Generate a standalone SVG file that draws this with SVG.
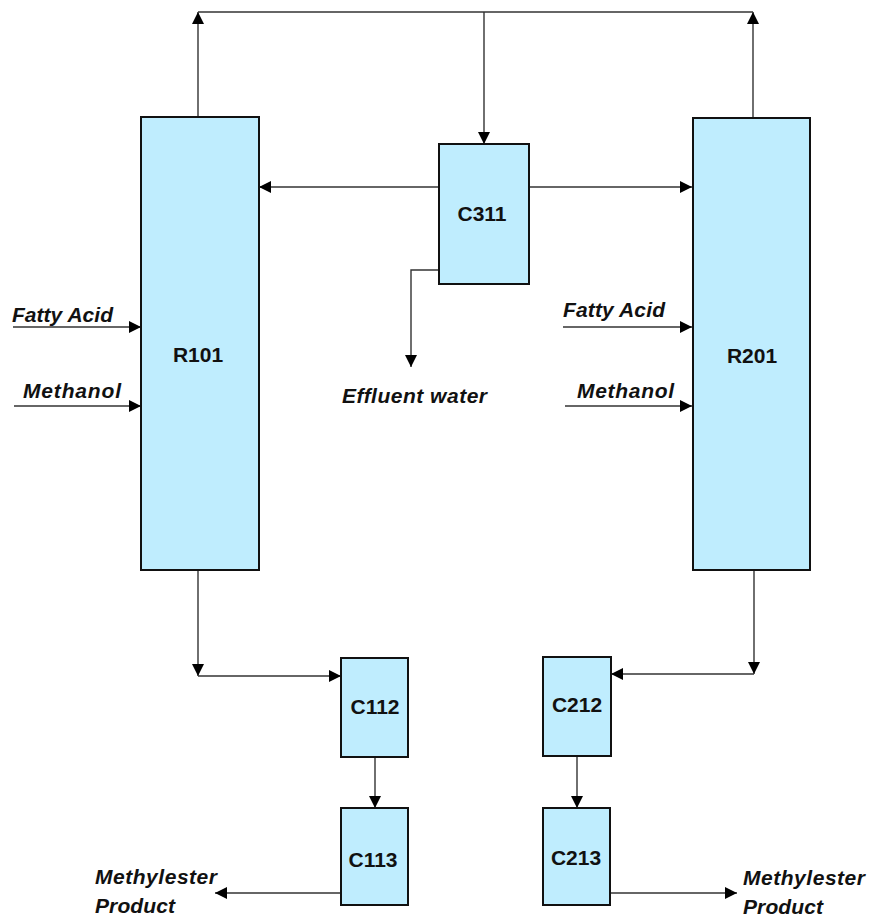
<svg xmlns="http://www.w3.org/2000/svg" width="871" height="917" viewBox="0 0 871 917">
<style>
.box{fill:#bfedfe;stroke:#111;stroke-width:2}
.lbl{font-family:"Liberation Sans",Arial,sans-serif;font-weight:bold;font-size:21px;fill:#111;text-anchor:middle}
.stream{font-family:"Liberation Sans",Arial,sans-serif;font-weight:bold;font-style:italic;font-size:21px;fill:#111}
.ln{fill:none;stroke:#333;stroke-width:1.4}
</style>
<defs>
<marker id="ah" viewBox="0 0 12 12" refX="12" refY="6" markerWidth="12" markerHeight="12" markerUnits="userSpaceOnUse" orient="auto">
<path d="M0,0 L12,6 L0,12 Z" fill="#000"/>
</marker>
</defs>
<g id="connectors">
<path class="ln" d="M198,117 V12" marker-end="url(#ah)"/>
<path class="ln" d="M753,118 V12" marker-end="url(#ah)"/>
<path class="ln" d="M198,12 H753"/>
<path class="ln" d="M484,12 V144" marker-end="url(#ah)"/>
<path class="ln" d="M439,187 H259" marker-end="url(#ah)"/>
<path class="ln" d="M529,187 H692" marker-end="url(#ah)"/>
<path class="ln" d="M439,270 H411 V367" marker-end="url(#ah)"/>
<path class="ln" d="M13,327 H141" marker-end="url(#ah)"/>
<path class="ln" d="M14,406 H141" marker-end="url(#ah)"/>
<path class="ln" d="M563,327 H692" marker-end="url(#ah)"/>
<path class="ln" d="M565,406 H692" marker-end="url(#ah)"/>
<path class="ln" d="M198,571 V676" marker-end="url(#ah)"/>
<path class="ln" d="M198,676 H341" marker-end="url(#ah)"/>
<path class="ln" d="M754,571 V674" marker-end="url(#ah)"/>
<path class="ln" d="M754,674 H611" marker-end="url(#ah)"/>
<path class="ln" d="M375,757 V808" marker-end="url(#ah)"/>
<path class="ln" d="M577,757 V808" marker-end="url(#ah)"/>
<path class="ln" d="M341,893 H215" marker-end="url(#ah)"/>
<path class="ln" d="M610,893 H737" marker-end="url(#ah)"/>
</g>
<g id="R101"><rect class="box" x="141" y="117" width="118" height="453"/><text class="lbl" x="198" y="362">R101</text></g>
<g id="R201"><rect class="box" x="693" y="118" width="117" height="452"/><text class="lbl" x="752" y="363">R201</text></g>
<g id="C311"><rect class="box" x="439" y="144" width="90" height="140"/><text class="lbl" x="482" y="221">C311</text></g>
<g id="C112"><rect class="box" x="341" y="658" width="67" height="99"/><text class="lbl" x="375" y="714">C112</text></g>
<g id="C113"><rect class="box" x="341" y="808" width="67" height="97"/><text class="lbl" x="373" y="867">C113</text></g>
<g id="C212"><rect class="box" x="543" y="657" width="68" height="99"/><text class="lbl" x="577" y="712">C212</text></g>
<g id="C213"><rect class="box" x="543" y="808" width="67" height="97"/><text class="lbl" x="576" y="865">C213</text></g>
<g id="labels">
<text class="stream" x="12" y="322" textLength="101">Fatty Acid</text>
<text class="stream" x="23" y="398" textLength="98">Methanol</text>
<text class="stream" x="563" y="317" textLength="102">Fatty Acid</text>
<text class="stream" x="577" y="398" textLength="97">Methanol</text>
<text class="stream" x="342" y="403" textLength="145">Effluent water</text>
<text class="stream" x="95" y="884" textLength="122">Methylester</text>
<text class="stream" x="95" y="913" textLength="80">Product</text>
<text class="stream" x="743" y="885" textLength="122">Methylester</text>
<text class="stream" x="743" y="914" textLength="80">Product</text>
</g>
</svg>
